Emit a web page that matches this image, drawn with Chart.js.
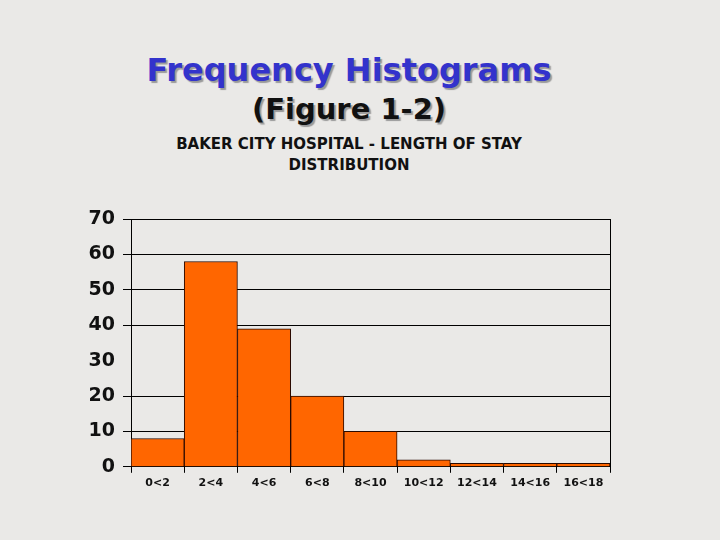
<!DOCTYPE html>
<html>
<head>
<meta charset="utf-8">
<script src="https://cdn.jsdelivr.net/npm/chart.js"></script>
<style>
  html,body{ margin:0; padding:0; }
  body{ width:720px; height:540px; position:relative; overflow:hidden;
    background:#eae9e7; font-family:"DejaVu Sans", Verdana, sans-serif; }
  .head{ position:absolute; left:0; width:698px; text-align:center; font-weight:bold; white-space:nowrap }
  .h1{ top:51px; font-size:32px; color:#3333cc; text-shadow:2px 2px 1px #9a9a9a }
  .h2{ top:92px; font-size:29px; color:#111; text-shadow:2px 2px 1px #9a9a9a }
  .h3{ top:134px; font-size:15px; line-height:21px; color:#111 }
  #wrap{ position:absolute; left:0; top:0; width:720px; height:540px }
</style>
</head>
<body>
<div class="head h1">Frequency Histograms</div>
<div class="head h2">(Figure 1-2)</div>
<div class="head h3">BAKER CITY HOSPITAL - LENGTH OF STAY<br>DISTRIBUTION</div>
<div id="wrap"><canvas id="c" width="720" height="540"></canvas></div>
<script>
// length of stay classes (days) and number of patients
const categories = ['0<2','2<4','4<6','6<8','8<10','10<12','12<14','14<16','16<18'];
const patients = [8, 58, 39, 20, 10, 2, 1, 1, 1];
const yTicks = [0, 10, 20, 30, 40, 50, 60, 70];

// frame line on the right side of the plot
const rightEdge = {
  id:'rightEdge',
  afterDraw(chart){
    const a = chart.chartArea, ctx = chart.ctx;
    ctx.save();
    ctx.strokeStyle = '#000'; ctx.lineWidth = 1;
    ctx.beginPath();
    ctx.moveTo(Math.round(a.right)+0.5, a.top);
    ctx.lineTo(Math.round(a.right)+0.5, a.bottom);
    ctx.stroke();
    ctx.restore();
  }
};

new Chart(document.getElementById('c'), {
  type:'bar',
  data:{
    labels: categories,
    datasets:[{
      label:'Patients',
      data: patients,
      backgroundColor:'#ff6600',
      borderColor:'#2a0a00',
      borderWidth:1,
      barPercentage:1,
      categoryPercentage:1
    }]
  },
  options:{
    responsive:false,
    animation:false,
    layout:{ padding:{ left:40, right:110, top:219, bottom:46 } },
    plugins:{ legend:{ display:false }, tooltip:{ enabled:false } },
    scales:{
      x:{
        grid:{ offset:true, drawOnChartArea:false, color:'#000', tickLength:6 },
        border:{ color:'#000' },
        ticks:{ color:'#111', font:{ family:'DejaVu Sans', size:11, weight:'bold' }, padding:4, maxRotation:0 }
      },
      y:{
        min:0, max:70,
        afterBuildTicks(s){ s.ticks = yTicks.map(v => ({ value:v })); },
        afterFit(s){ s.width = 91; },
        grid:{ color: c => c.tick && c.tick.value === 30 ? 'rgba(0,0,0,0)' : '#000', tickLength:8 },
        border:{ color:'#000' },
        ticks:{ color:'#111', font:{ family:'DejaVu Sans', size:19, weight:'bold' }, padding:8 }
      }
    }
  },
  plugins:[rightEdge]
});
</script>
</body>
</html>
